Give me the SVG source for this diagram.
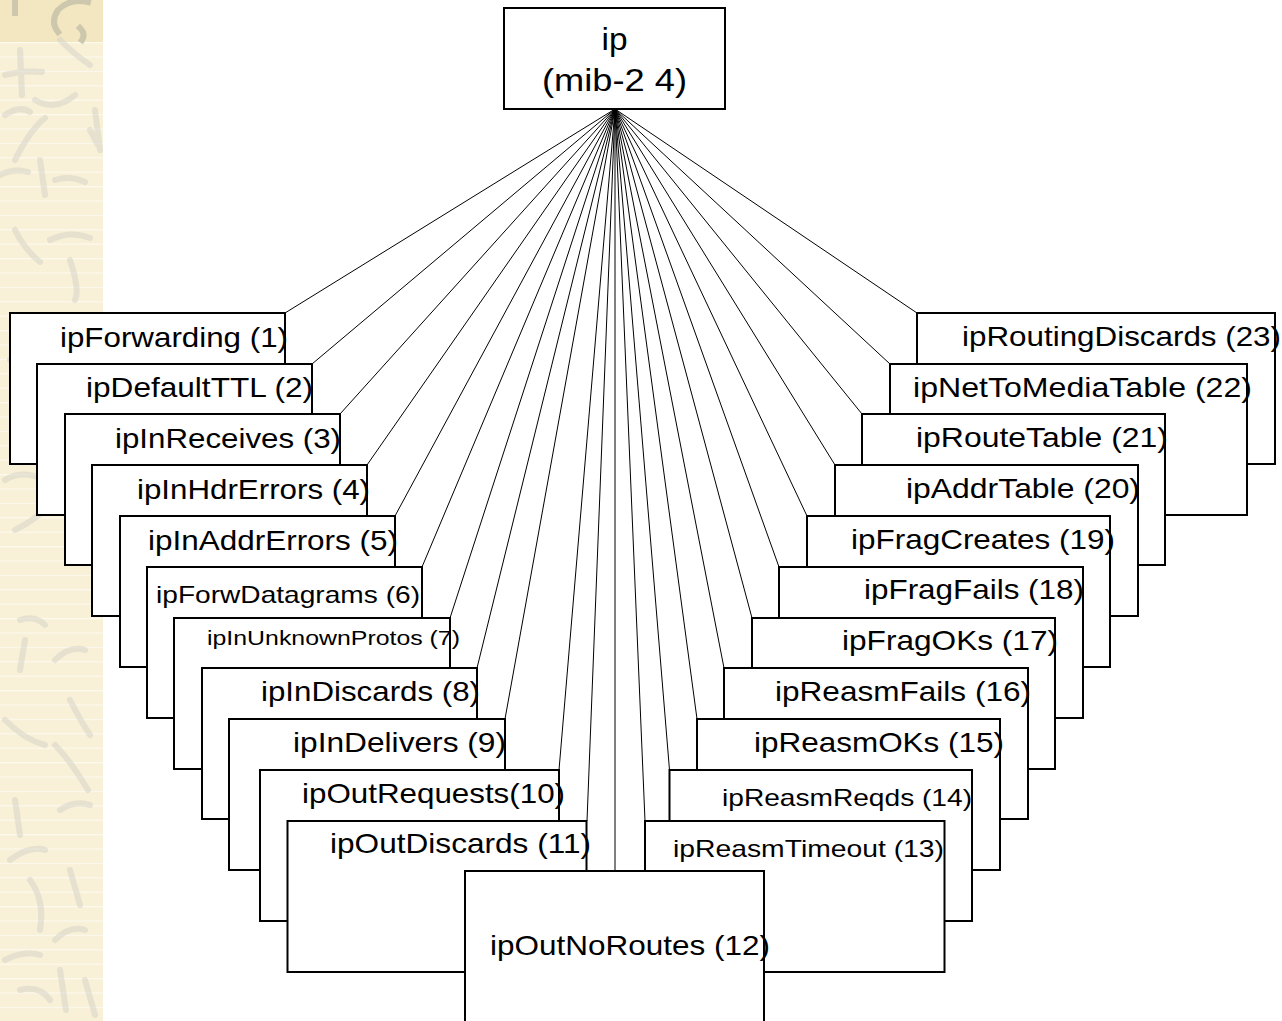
<svg xmlns="http://www.w3.org/2000/svg" width="1282" height="1021" viewBox="0 0 1282 1021">
  <defs>
    <style>
      .box { fill: #ffffff; stroke: #000000; stroke-width: 2; }
      .lbl { font-family: "Liberation Sans", Arial, sans-serif; font-size: 28.5px; fill: #000000; }
      .sm { font-size: 24px; }
      .xs { font-size: 21px; }
      .root { font-size: 32px; text-anchor: middle; }
      .edge { stroke: #000000; stroke-width: 1; fill: none; }
      .scribble { fill: none; stroke: #d3d1c8; stroke-width: 6; stroke-linecap: round; stroke-linejoin: round; opacity: 0.5; }
      .scribble-top { fill: none; stroke: #cdc8ad; stroke-width: 6; stroke-linecap: square; }
    </style>
    <pattern id="paperLines" x="0" y="42" width="103" height="14.4" patternUnits="userSpaceOnUse">
      <rect width="103" height="14.4" fill="#f8f0d7"/>
      <rect y="0" width="103" height="1.2" fill="#fcf9ee"/>
    </pattern>
  </defs>

  <!-- page background -->
  <rect width="1282" height="1021" fill="#ffffff"/>

  <!-- decorative paper strip on the left edge -->
  <g id="paper-strip">
    <rect x="0" y="42" width="103" height="979" fill="url(#paperLines)"/>
    <rect x="0" y="0" width="103" height="42" fill="#f2e7c1"/>
    <path class="scribble-top" d="M15 0 V13"/>
    <path class="scribble-top" d="M88 2 Q70 -2 58 10 Q50 22 58 32 M80 28 Q86 34 82 40"/>
    <path class="scribble" d="M20 50 L22 95 M5 75 Q25 70 42 72 M60 40 Q75 55 90 65"/>
    <path class="scribble" d="M5 115 Q20 105 30 112 M35 100 Q55 112 75 95 M15 160 Q30 130 45 118 M0 175 Q15 168 28 172"/>
    <path class="scribble" d="M40 160 L45 195 M55 180 Q70 175 85 182 M90 130 L98 145 M95 110 L100 150"/>
    <path class="scribble" d="M15 230 Q25 250 40 262 M50 240 Q70 230 90 238 M70 260 Q80 290 75 300"/>
    <path class="scribble" d="M10 360 Q30 340 45 330 M20 380 L25 420 M60 380 Q75 410 90 420 M85 350 L95 380"/>
    <path class="scribble" d="M5 480 Q20 470 40 478 M50 460 Q60 480 70 500 M15 530 Q35 520 50 505 M80 520 L92 545"/>
    <path class="scribble" d="M20 620 Q35 615 45 625 M25 640 L20 670 M55 660 Q70 645 85 650 M70 700 Q80 720 90 735"/>
    <path class="scribble" d="M5 720 Q25 740 45 745 M55 745 Q70 760 88 790 M15 800 L20 835 M60 810 Q75 800 90 805"/>
    <path class="scribble" d="M10 860 Q30 845 45 850 M30 880 Q45 900 40 930 M70 870 L80 905 M5 960 Q25 950 40 955"/>
    <path class="scribble" d="M55 940 Q70 925 85 930 M60 970 L66 1010 M20 990 Q40 985 50 1000 M85 980 L95 1015"/>
  </g>

  <!-- tree edges from ip to each child -->
  <g id="connectors">
    <line class="edge" x1="615" y1="109" x2="285" y2="313"/>
    <line class="edge" x1="615" y1="109" x2="312" y2="364"/>
    <line class="edge" x1="615" y1="109" x2="340" y2="414"/>
    <line class="edge" x1="615" y1="109" x2="367" y2="465"/>
    <line class="edge" x1="615" y1="109" x2="395" y2="516"/>
    <line class="edge" x1="615" y1="109" x2="422" y2="567"/>
    <line class="edge" x1="615" y1="109" x2="450" y2="618"/>
    <line class="edge" x1="615" y1="109" x2="477" y2="668"/>
    <line class="edge" x1="615" y1="109" x2="505" y2="719"/>
    <line class="edge" x1="615" y1="109" x2="559" y2="770"/>
    <line class="edge" x1="615" y1="109" x2="587" y2="821"/>
    <line class="edge" x1="615" y1="109" x2="615" y2="871"/>
    <line class="edge" x1="615" y1="109" x2="645" y2="821"/>
    <line class="edge" x1="615" y1="109" x2="669.5" y2="770"/>
    <line class="edge" x1="615" y1="109" x2="697" y2="719"/>
    <line class="edge" x1="615" y1="109" x2="724" y2="668"/>
    <line class="edge" x1="615" y1="109" x2="752" y2="618"/>
    <line class="edge" x1="615" y1="109" x2="779" y2="567"/>
    <line class="edge" x1="615" y1="109" x2="807" y2="516"/>
    <line class="edge" x1="615" y1="109" x2="835" y2="465"/>
    <line class="edge" x1="615" y1="109" x2="862" y2="414"/>
    <line class="edge" x1="615" y1="109" x2="890" y2="364"/>
    <line class="edge" x1="615" y1="109" x2="917" y2="313"/>
  </g>

  <!-- root node -->
  <g id="node-ip">
    <rect class="box" x="504" y="8" width="221" height="101"/>
    <text class="lbl root" x="614.5" y="50" textLength="26" lengthAdjust="spacingAndGlyphs">ip</text>
    <text class="lbl root" x="614.5" y="91" textLength="145" lengthAdjust="spacingAndGlyphs">(mib-2 4)</text>
  </g>

  <!-- left column, stacked 1 to 11 -->
  <g id="node-ipForwarding">
    <rect class="box" x="10" y="313" width="275" height="151"/>
    <text class="lbl" x="60" y="347" textLength="228" lengthAdjust="spacingAndGlyphs">ipForwarding (1)</text>
  </g>
  <g id="node-ipDefaultTTL">
    <rect class="box" x="37" y="364" width="275" height="151"/>
    <text class="lbl" x="86" y="397" textLength="227" lengthAdjust="spacingAndGlyphs">ipDefaultTTL (2)</text>
  </g>
  <g id="node-ipInReceives">
    <rect class="box" x="65" y="414" width="275" height="151"/>
    <text class="lbl" x="115" y="448" textLength="226" lengthAdjust="spacingAndGlyphs">ipInReceives (3)</text>
  </g>
  <g id="node-ipInHdrErrors">
    <rect class="box" x="92" y="465" width="275" height="151"/>
    <text class="lbl" x="137" y="499" textLength="233" lengthAdjust="spacingAndGlyphs">ipInHdrErrors (4)</text>
  </g>
  <g id="node-ipInAddrErrors">
    <rect class="box" x="120" y="516" width="275" height="151"/>
    <text class="lbl" x="148" y="550" textLength="250" lengthAdjust="spacingAndGlyphs">ipInAddrErrors (5)</text>
  </g>
  <g id="node-ipForwDatagrams">
    <rect class="box" x="147" y="567" width="275" height="151"/>
    <text class="lbl sm" x="156" y="603" textLength="264" lengthAdjust="spacingAndGlyphs">ipForwDatagrams (6)</text>
  </g>
  <g id="node-ipInUnknownProtos">
    <rect class="box" x="174" y="618" width="276" height="151"/>
    <text class="lbl xs" x="207" y="645" textLength="253" lengthAdjust="spacingAndGlyphs">ipInUnknownProtos (7)</text>
  </g>
  <g id="node-ipInDiscards">
    <rect class="box" x="202" y="668" width="275" height="151"/>
    <text class="lbl" x="261" y="701" textLength="219" lengthAdjust="spacingAndGlyphs">ipInDiscards (8)</text>
  </g>
  <g id="node-ipInDelivers">
    <rect class="box" x="229" y="719" width="276" height="151"/>
    <text class="lbl" x="293" y="752" textLength="213" lengthAdjust="spacingAndGlyphs">ipInDelivers (9)</text>
  </g>
  <g id="node-ipOutRequests">
    <rect class="box" x="260" y="770" width="299" height="151"/>
    <text class="lbl" x="302" y="803" textLength="263" lengthAdjust="spacingAndGlyphs">ipOutRequests(10)</text>
  </g>
  <g id="node-ipOutDiscards">
    <rect class="box" x="287.5" y="821" width="299" height="151"/>
    <text class="lbl" x="330" y="853" textLength="261" lengthAdjust="spacingAndGlyphs">ipOutDiscards (11)</text>
  </g>

  <!-- right column, stacked 23 down to 13 -->
  <g id="node-ipRoutingDiscards">
    <rect class="box" x="917" y="313" width="358" height="151"/>
    <text class="lbl" x="962" y="346" textLength="319" lengthAdjust="spacingAndGlyphs">ipRoutingDiscards (23)</text>
  </g>
  <g id="node-ipNetToMediaTable">
    <rect class="box" x="890" y="364" width="357" height="151"/>
    <text class="lbl" x="913" y="397" textLength="339" lengthAdjust="spacingAndGlyphs">ipNetToMediaTable (22)</text>
  </g>
  <g id="node-ipRouteTable">
    <rect class="box" x="862" y="414" width="303" height="151"/>
    <text class="lbl" x="916" y="447" textLength="252" lengthAdjust="spacingAndGlyphs">ipRouteTable (21)</text>
  </g>
  <g id="node-ipAddrTable">
    <rect class="box" x="835" y="465" width="303" height="151"/>
    <text class="lbl" x="906" y="498" textLength="234" lengthAdjust="spacingAndGlyphs">ipAddrTable (20)</text>
  </g>
  <g id="node-ipFragCreates">
    <rect class="box" x="807" y="516" width="303" height="151"/>
    <text class="lbl" x="851" y="549" textLength="264" lengthAdjust="spacingAndGlyphs">ipFragCreates (19)</text>
  </g>
  <g id="node-ipFragFails">
    <rect class="box" x="779" y="567" width="304" height="151"/>
    <text class="lbl" x="864" y="599" textLength="220" lengthAdjust="spacingAndGlyphs">ipFragFails (18)</text>
  </g>
  <g id="node-ipFragOKs">
    <rect class="box" x="752" y="618" width="303" height="151"/>
    <text class="lbl" x="842" y="650" textLength="216" lengthAdjust="spacingAndGlyphs">ipFragOKs (17)</text>
  </g>
  <g id="node-ipReasmFails">
    <rect class="box" x="724" y="668" width="304" height="151"/>
    <text class="lbl" x="775" y="701" textLength="256" lengthAdjust="spacingAndGlyphs">ipReasmFails (16)</text>
  </g>
  <g id="node-ipReasmOKs">
    <rect class="box" x="697" y="719" width="303" height="151"/>
    <text class="lbl" x="754" y="752" textLength="250" lengthAdjust="spacingAndGlyphs">ipReasmOKs (15)</text>
  </g>
  <g id="node-ipReasmReqds">
    <rect class="box" x="669.5" y="770" width="302.5" height="151"/>
    <text class="lbl sm" x="722" y="806" textLength="250" lengthAdjust="spacingAndGlyphs">ipReasmReqds (14)</text>
  </g>
  <g id="node-ipReasmTimeout">
    <rect class="box" x="645" y="821" width="299.5" height="151"/>
    <text class="lbl sm" x="673" y="857" textLength="271" lengthAdjust="spacingAndGlyphs">ipReasmTimeout (13)</text>
  </g>

  <!-- front node, runs off the bottom edge -->
  <g id="node-ipOutNoRoutes">
    <rect class="box" x="465" y="871" width="299" height="170"/>
    <text class="lbl" x="490" y="955" textLength="280" lengthAdjust="spacingAndGlyphs">ipOutNoRoutes (12)</text>
  </g>
</svg>
